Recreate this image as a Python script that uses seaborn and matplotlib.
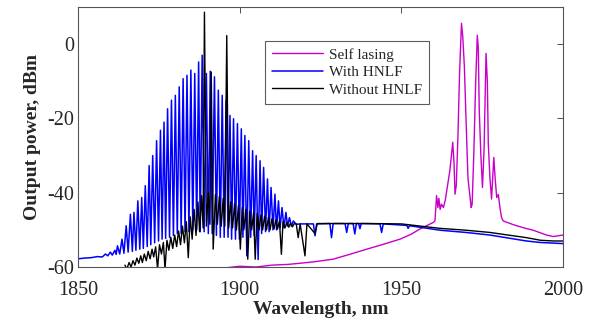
import numpy as np
import pandas as pd
import seaborn as sns
from matplotlib import pyplot as plt

# Self lasing (magenta) trace
self_nm = [1896.0, 1900.0, 1905.0, 1910.0, 1915.0, 1918.6, 1923.0, 1928.9, 1934.0,
           1939.3, 1944.0, 1949.6, 1953.0, 1955.7, 1958.0, 1959.9, 1960.4, 1960.9,
           1961.3, 1961.6, 1962.0, 1962.4, 1963.0, 1963.6, 1964.3, 1965.0, 1965.5,
           1965.9, 1966.3, 1966.6, 1967.0, 1967.5, 1968.0, 1968.6, 1969.0, 1969.5,
           1970.0, 1970.6, 1971.2, 1971.6, 1971.9, 1972.4, 1973.0, 1973.5, 1973.8,
           1974.1, 1974.6, 1975.1, 1975.6, 1976.2, 1976.6, 1976.9, 1977.4, 1977.9,
           1978.6, 1979.0, 1979.5, 1980.0, 1980.5, 1981.0, 1981.5, 1984.6, 1988.0,
           1990.8, 1994.9, 1997.0, 2000.0]
self_db = [-60.2, -59.8, -60.0, -59.5, -59.3, -59.0, -58.6, -57.9, -56.6,
           -55.2, -54.0, -52.5, -51.2, -49.8, -48.8, -48.0, -47.6, -40.8,
           -44.0, -41.5, -44.5, -43.1, -44.0, -42.0, -38.0, -34.1, -30.0,
           -26.4, -32.0, -40.4, -38.0, -25.0, -8.0, 5.6, 2.0, -6.1,
           -20.0, -36.0, -40.8, -44.0, -43.1, -30.0, -10.0, 2.4, -1.0,
           -17.8, -30.0, -38.6, -28.0, -2.5, -10.0, -26.9, -36.0, -41.7,
           -30.5, -36.0, -41.3, -40.5, -44.0, -46.7, -47.6, -48.6, -49.5,
           -50.1, -51.4, -51.8, -51.4]

# With HNLF (blue): baseline before the comb
blue_start_nm = [1850.0, 1852.0, 1854.0, 1856.0, 1857.5, 1858.5, 1859.2, 1860.0, 1860.6, 1861.4, 1861.8]
blue_start_db = [-57.8, -57.6, -57.5, -57.2, -57.3, -56.5, -57.0, -56.0, -56.8, -55.5, -56.6]
# comb teeth tops
blue_peak_nm = [1862.2, 1863.6, 1864.9, 1866.2, 1867.3, 1868.5, 1869.7, 1870.8, 1872.0, 1873.1,
                1874.3, 1875.5, 1876.6, 1877.7, 1878.9, 1880.1, 1881.3, 1882.5, 1883.7, 1884.9,
                1886.1, 1887.3, 1888.4, 1889.7, 1890.9, 1892.2, 1893.4, 1894.6, 1895.8, 1897.0,
                1898.1, 1899.3, 1900.5, 1901.6, 1902.8, 1904.0, 1905.1, 1906.3, 1907.4, 1908.6,
                1909.7, 1910.9, 1912.0, 1913.1, 1914.3, 1915.4, 1916.6]
blue_peak_db = [-54.3, -52.5, -48.9, -45.8, -45.3, -42.2, -41.3, -38.1, -32.7, -30.0,
                -26.0, -23.2, -21.0, -17.4, -15.1, -13.8, -11.5, -9.3, -8.4, -7.0,
                -7.9, -4.8, -3.0, -7.9, -7.3, -8.8, -12.4, -13.8, -15.1, -19.2,
                -20.1, -21.4, -22.8, -24.6, -26.0, -28.7, -30.0, -31.4, -33.2, -36.3,
                -38.6, -40.4, -42.2, -44.0, -45.3, -46.7, -47.6]
# comb troughs between teeth
blue_trough_nm = [1862.9, 1864.2, 1865.5, 1866.8, 1867.9, 1869.1, 1870.2, 1871.4, 1872.5, 1873.7,
                  1874.9, 1876.0, 1877.1, 1878.3, 1879.5, 1880.7, 1881.9, 1883.1, 1884.3, 1885.5,
                  1886.7, 1887.8, 1889.0, 1890.3, 1891.5, 1892.8, 1894.0, 1895.2, 1896.4, 1897.5,
                  1898.7, 1899.9, 1901.0, 1902.2, 1903.4, 1904.5, 1905.7, 1906.8, 1908.0, 1909.1,
                  1910.3, 1911.4, 1912.5, 1913.7, 1914.8, 1916.0]
blue_trough_db = [-56.5, -56.3, -56.0, -55.8, -55.5, -55.2, -55.0, -54.5, -54.0, -53.5,
                  -53.0, -52.5, -52.3, -52.0, -51.5, -51.0, -51.0, -50.5, -50.5, -50.0,
                  -50.0, -50.5, -50.5, -51.0, -51.0, -51.5, -52.0, -52.0, -52.0, -52.5,
                  -52.5, -52.5, -52.0, -57.0, -52.0, -51.5, -58.0, -51.0, -50.5, -50.5,
                  -50.0, -50.0, -49.5, -49.5, -49.0, -49.0]
# flat part and slow roll-off
blue_tail_nm = [1917.5, 1919.0, 1922.8, 1923.3, 1923.8, 1927.9, 1928.4, 1928.9, 1932.6, 1933.1,
                1933.6, 1935.1, 1935.6, 1936.1, 1936.8, 1937.2, 1937.6, 1943.4, 1943.9, 1944.4,
                1951.7, 1952.1, 1952.5, 1955.0, 1962.0, 1970.0, 1977.4, 1983.0, 1988.7, 1993.0,
                2000.0]
blue_tail_db = [-48.5, -48.4, -48.4, -51.6, -48.4, -48.3, -52.1, -48.3, -48.3, -50.7,
                -48.3, -48.3, -51.1, -48.3, -48.3, -49.7, -48.3, -48.4, -50.7, -48.4,
                -48.8, -49.6, -48.9, -49.2, -50.1, -50.7, -51.4, -52.2, -53.0, -53.4,
                -53.7]

# Without HNLF (black): comb teeth tops, incl. the two tall spikes
black_peak_nm = [1864.5, 1865.8, 1867.0, 1868.2, 1869.4, 1870.5, 1871.7, 1872.9, 1874.0, 1875.2,
                 1876.4, 1877.5, 1878.7, 1879.9, 1881.1, 1882.3, 1883.5, 1884.7, 1885.9, 1887.1,
                 1888.2, 1889.1, 1890.3, 1891.2, 1892.5, 1893.7, 1894.9, 1896.0, 1897.2, 1898.4,
                 1899.6, 1900.8, 1901.9, 1903.1, 1904.3, 1905.4, 1906.6, 1907.7, 1908.9, 1910.0,
                 1911.2, 1912.3, 1913.4, 1914.6, 1915.7, 1916.9]
black_peak_db = [-59.5, -58.8, -58.3, -57.6, -57.0, -56.5, -55.8, -55.2, -54.6, -54.0,
                 -53.4, -52.8, -52.0, -51.4, -50.3, -49.0, -47.8, -46.5, -44.5, -42.5,
                 -40.8, 8.6, -40.0, -7.5, -40.5, -41.0, -41.5, 2.3, -42.5, -43.0,
                 -43.5, -44.0, -44.5, -45.0, -45.3, -45.6, -46.0, -46.3, -46.6, -47.0,
                 -47.3, -47.6, -47.8, -48.0, -48.2, -48.3]
black_trough_nm = [1865.1, 1866.4, 1867.6, 1868.8, 1869.9, 1871.1, 1872.3, 1873.4, 1874.6, 1875.8,
                   1876.9, 1878.1, 1879.3, 1880.5, 1881.7, 1882.9, 1884.1, 1885.3, 1886.5, 1887.6,
                   1888.7, 1889.7, 1890.8, 1891.8, 1893.1, 1894.3, 1895.4, 1896.6, 1897.8, 1899.0,
                   1900.2, 1901.3, 1902.5, 1903.7, 1904.8, 1906.0, 1907.1, 1908.3, 1909.4, 1910.6,
                   1911.7, 1912.9, 1914.0, 1915.2, 1916.3]
black_trough_db = [-60.5, -60.0, -59.5, -59.0, -58.8, -58.3, -57.8, -57.3, -60.5, -56.5,
                   -60.5, -55.5, -55.0, -54.5, -54.0, -53.5, -57.5, -52.5, -51.5, -50.5,
                   -49.5, -49.0, -48.5, -55.2, -48.5, -49.0, -49.0, -49.5, -49.5, -50.0,
                   -55.2, -50.0, -57.9, -50.0, -57.9, -50.0, -50.0, -50.0, -50.0, -49.8,
                   -49.8, -56.6, -49.5, -49.3, -49.2]
black_tail_nm = [1917.5, 1918.1, 1918.7, 1920.2, 1920.8, 1923.3, 1924.0, 1930.0, 1940.0, 1950.0,
                 1955.0, 1962.0, 1970.0, 1977.4, 1983.0, 1988.7, 1993.0, 1997.0, 2000.0]
black_tail_db = [-48.4, -52.1, -48.4, -57.0, -48.4, -51.0, -48.3, -48.3, -48.3, -48.4,
                 -48.9, -49.6, -50.1, -50.7, -51.4, -52.1, -52.8, -53.0, -53.0]


def trace(parts):
    # join the read segments (peaks, troughs, baseline) into one ordered trace
    nm = np.concatenate([p[0] for p in parts])
    db = np.concatenate([p[1] for p in parts])
    order = np.argsort(nm, kind="stable")
    return pd.DataFrame({"nm": nm[order], "db": db[order]})


df_self = pd.DataFrame({"nm": self_nm, "db": self_db})
df_blue = trace([(blue_start_nm, blue_start_db), (blue_peak_nm, blue_peak_db),
                 (blue_trough_nm, blue_trough_db), (blue_tail_nm, blue_tail_db)])
df_black = trace([(black_peak_nm, black_peak_db), (black_trough_nm, black_trough_db),
                  (black_tail_nm, black_tail_db)])

sns.set_theme(style="white")
plt.rcParams['font.family'] = ['Liberation Serif', 'DejaVu Serif']
plt.rcParams['axes.unicode_minus'] = False
plt.rcParams['xtick.direction'] = 'in'
plt.rcParams['ytick.direction'] = 'in'

fig = plt.figure(figsize=(5.92, 3.23), dpi=100)
ax = fig.add_axes([0.1318, 0.1734, 0.8192, 0.8050])

kw = dict(x="nm", y="db", sort=False, estimator=None, ax=ax)
sns.lineplot(data=df_self, color="#C800C8", lw=1.0, label="Self lasing", **kw)
sns.lineplot(data=df_blue, color="#0000FF", lw=1.1, label="With HNLF", **kw)
sns.lineplot(data=df_black, color="#000000", lw=1.0, label="Without HNLF", **kw)

ax.set_xlim(1850, 2000)
ax.set_ylim(-60, 10)
ax.set_xticks([1850, 1900, 1950, 2000])
ax.set_yticks([-60, -40, -20, 0])
ax.tick_params(axis="both", which="both", top=True, right=True, length=4,
               width=0.6, color="#333333", labelsize=14.5)
ax.tick_params(axis="x", pad=10)
ax.tick_params(axis="y", pad=3)
for s in ax.spines.values():
    s.set_color("#555555")
    s.set_linewidth(0.8)

ax.set_xlabel("Wavelength, nm", fontsize=14, fontweight="bold", labelpad=1)
ax.set_ylabel("Output power, dBm", fontsize=14, fontweight="bold", labelpad=4)

leg = ax.legend(loc="upper left", bbox_to_anchor=(0.386, 0.869), fontsize=11,
                frameon=True, fancybox=False, handlelength=3.3, handletextpad=0.4,
                labelspacing=0.25, borderpad=0.45, borderaxespad=0)
leg.get_frame().set_edgecolor("#333333")
leg.get_frame().set_linewidth(0.8)

fig.savefig("out.png", dpi=100)
